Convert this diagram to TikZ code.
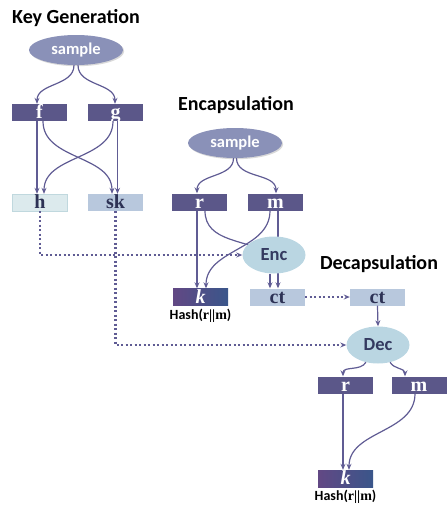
\documentclass[tikz,border=0pt]{standalone}
\usepackage{fontspec}
\setmainfont{Liberation Serif}
\newfontfamily\calibrifont{Carlito}
\usetikzlibrary{arrows.meta,positioning,shapes.geometric,shadows}
\definecolor{boxdark}{RGB}{91,87,137}
\definecolor{boxlight}{RGB}{184,200,221}
\definecolor{boxtext}{RGB}{45,50,85}
\definecolor{hfill}{RGB}{220,234,237}
\definecolor{hdraw}{RGB}{192,216,222}
\definecolor{samplefill}{RGB}{138,145,184}
\definecolor{opfill}{RGB}{186,214,226}
\definecolor{optext}{RGB}{52,58,96}
\definecolor{kleft}{RGB}{98,72,132}
\definecolor{kright}{RGB}{58,86,138}
\definecolor{flowcol}{RGB}{96,92,148}
\begin{document}
\begin{tikzpicture}[x=1pt,y=1pt]
\tikzstyle{every node}+=[inner sep=0pt]
\tikzstyle{heading}=[font=\calibrifont\bfseries\fontsize{20}{20}\selectfont]
\tikzstyle{sampler}=[ellipse, fill=samplefill, minimum width=94pt, minimum height=30pt, text=white, font=\calibrifont\bfseries\fontsize{16.5}{16.5}\selectfont, drop shadow={shadow xshift=1.2pt, shadow yshift=-1.2pt, opacity=.3}]
\tikzstyle{darkbox}=[rectangle, fill=boxdark, minimum width=55pt, minimum height=17pt, text height=14.5pt, text depth=2.5pt, text=white, font=\bfseries\fontsize{20}{20}\selectfont]
\tikzstyle{lightbox}=[darkbox, fill=boxlight, text=boxtext]
\tikzstyle{pubbox}=[darkbox, fill=hfill, draw=hdraw, text=boxtext]
\tikzstyle{keybox}=[darkbox, left color=kleft, right color=kright, font=\bfseries\itshape\fontsize{20}{20}\selectfont]
\tikzstyle{oper}=[ellipse, fill=opfill, minimum width=63pt, minimum height=37pt, text=optext, font=\calibrifont\bfseries\fontsize{18.5}{18.5}\selectfont]
\tikzstyle{hashlabel}=[font=\bfseries\fontsize{14}{14}\selectfont]
\tikzstyle{flowline}=[draw=flowcol, line width=1.2pt]
\tikzstyle{flow}=[flowline, -{Stealth[length=6pt,width=5pt]}]
\tikzstyle{pass}=[flow, line width=2.2pt, dash pattern=on 2.2pt off 2.3pt]
\useasboundingbox (0,0) rectangle (447,-507);
\node[heading] (kgtitle) at (76,-18) {Key Generation};
\node[sampler] (kgsample) at (76,-50) {sample};
\node[darkbox] (f) at (39.5,-112.5) {f};
\node[darkbox] (g) at (115.5,-112.5) {g};
\node[pubbox] (h) at (40,-202.5) {h};
\node[lightbox] (sk) at (115.5,-202.5) {sk};
\draw[flow] ([xshift=-2pt]kgsample.south) to[out=-90,in=90] ([xshift=-2.5pt]f.north);
\draw[flow] ([xshift=2pt]kgsample.south) to[out=-90,in=90] ([xshift=-0.5pt]g.north);
\draw[flow] ([xshift=-2.5pt]f.south) -- ([xshift=-3pt]h.north);
\draw[flow] ([xshift=3.5pt]f.south) to[out=-90,in=90] ([xshift=-3.5pt]sk.north);
\draw[flow] ([xshift=-2.5pt]g.south) to[out=-90,in=90] ([xshift=4pt]h.north);
\draw[flow] ([xshift=2pt]g.south) -- ([xshift=2pt]sk.north);
\node[heading] (enctitle) at (236,-105) {Encapsulation};
\node[sampler] (encsample) at (235,-143) {sample};
\node[darkbox] (r) at (199.5,-202) {r};
\node[darkbox] (m) at (275.5,-202) {m};
\node[keybox] (k) at (200.5,-297) {k};
\node[hashlabel, below=3pt of k] (khash) {{\calibrifont Hash(}r||m{\calibrifont )}};
\node[lightbox] (ct) at (277.5,-297) {ct};
\coordinate (encpos) at (274,-255);
\draw[flow] ([xshift=-1.5pt]encsample.south) to[out=-90,in=90] ([xshift=-2.5pt]r.north);
\draw[flow] ([xshift=1.5pt]encsample.south) to[out=-90,in=90] ([xshift=0.5pt]m.north);
\draw[flow] ([xshift=-2.5pt]r.south) -- ([xshift=-3.5pt]k.north);
\draw[flow] ([xshift=-5.5pt]m.south) to[out=-90,in=90] ([xshift=5.5pt]k.north);
\draw[flowline] ([xshift=5.5pt]r.south) to[out=-90,in=150] (encpos);
\draw[flow] ([xshift=2.5pt]m.south) -- ([xshift=0.5pt]ct.north);
\node[oper] (enc) at (encpos) {Enc};
\draw[flow] ([xshift=-4pt]enc.south) -- ([xshift=-7.5pt]ct.north);
\node[heading] (dectitle) at (379,-264) {Decapsulation};
\node[lightbox] (ctdec) at (377.5,-297) {ct};
\node[oper] (dec) at (378,-345) {Dec};
\node[darkbox] (rdec) at (345.5,-385) {r};
\node[darkbox] (mdec) at (419,-385) {m};
\node[keybox] (kdec) at (345.5,-478.5) {k};
\node[hashlabel, below=3pt of kdec] (kdechash) {{\calibrifont Hash(}r||m{\calibrifont )}};
\draw[pass] (ct.east) -- (ctdec.west);
\draw[flow] (ctdec.south) -- (dec.north);
\draw[flow] (dec.235) to[out=-120,in=90] ([xshift=-2.5pt]rdec.north);
\draw[flow] (dec.305) to[out=-60,in=90] ([xshift=-14pt]mdec.north);
\draw[flow] ([xshift=-2.5pt]rdec.south) -- ([xshift=-2.5pt]kdec.north);
\draw[flow] ([xshift=-4pt]mdec.south) to[out=-90,in=90] ([xshift=3.5pt]kdec.north);
\draw[pass] (h.south) |- (enc.west);
\draw[pass] (sk.south) |- (dec.west);
\end{tikzpicture}
\end{document}
